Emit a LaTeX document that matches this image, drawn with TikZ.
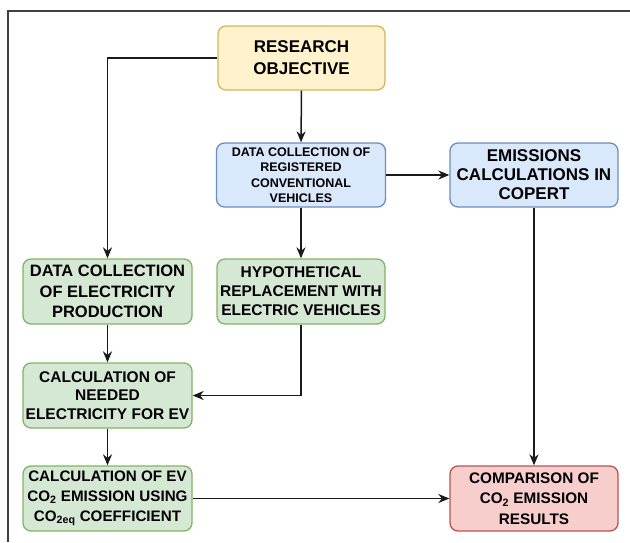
\documentclass[tikz,border=0pt]{standalone}
\usepackage{fontspec}
\setmainfont{Liberation Sans}
\usetikzlibrary{arrows.meta}
\definecolor{yfill}{HTML}{FFF2CC}\definecolor{ydraw}{HTML}{D6B656}
\definecolor{bfill}{HTML}{DAE8FC}\definecolor{bdraw}{HTML}{6C8EBF}
\definecolor{gfill}{HTML}{D5E8D4}\definecolor{gdraw}{HTML}{82B366}
\definecolor{rfill}{HTML}{F8CECC}\definecolor{rdraw}{HTML}{B85450}
\definecolor{linec}{HTML}{1A1A1A}
\tikzset{
  box/.style={rectangle, rounded corners=8pt, line width=1.3pt, align=center,
    inner sep=0pt, font=\bfseries},
  ybox/.style={box, fill=yfill, draw=ydraw},
  bbox/.style={box, fill=bfill, draw=bdraw},
  gbox/.style={box, fill=gfill, draw=gdraw},
  rbox/.style={box, fill=rfill, draw=rdraw},
  conn/.style={line width=1.5pt, draw=linec, -{Stealth[length=11pt,width=9pt,inset=3.5pt]}},
  frame/.style={line width=2pt, draw=black!75}
}
\begin{document}
\begin{tikzpicture}[x=1pt,y=-1pt]
\useasboundingbox (0,0) rectangle (630,542);
\draw[frame] (8,542) -- (8,11) -- (630,11);

\node[ybox, minimum width=167pt, minimum height=64pt,
  font=\bfseries\fontsize{17}{22}\selectfont] (obj) at (301.5,58) {RESEARCH\\OBJECTIVE};
\node[bbox, minimum width=169pt, minimum height=64pt,
  font=\bfseries\fontsize{12.5}{15.5}\selectfont] (reg) at (301,175)
  {DATA COLLECTION OF\\REGISTERED\\CONVENTIONAL\\VEHICLES};
\node[bbox, minimum width=168pt, minimum height=64pt,
  font=\bfseries\fontsize{17}{19}\selectfont] (cop) at (534,175)
  {EMISSIONS\\CALCULATIONS IN\\COPERT};
\node[gbox, minimum width=169pt, minimum height=65pt,
  font=\bfseries\fontsize{16.5}{20.5}\selectfont] (elec) at (107.5,291.5)
  {DATA COLLECTION\\OF ELECTRICITY\\PRODUCTION};
\node[gbox, minimum width=168pt, minimum height=65pt,
  font=\bfseries\fontsize{15.5}{19}\selectfont] (hyp) at (301,291.5)
  {HYPOTHETICAL\\REPLACEMENT WITH\\ELECTRIC VEHICLES};
\node[gbox, minimum width=169pt, minimum height=65pt,
  font=\bfseries\fontsize{15.5}{18.5}\selectfont] (need) at (107.5,395.5)
  {CALCULATION OF\\NEEDED\\ELECTRICITY FOR EV};
\node[gbox, minimum width=169pt, minimum height=65pt,
  font=\bfseries\fontsize{15.2}{20}\selectfont] (evco) at (107.5,498.5)
  {CALCULATION OF EV\\CO\textsubscript{2} EMISSION USING\\CO\textsubscript{2eq} COEFFICIENT};
\node[rbox, minimum width=168pt, minimum height=65pt,
  font=\bfseries\fontsize{15.3}{20.5}\selectfont] (comp) at (534,498.5)
  {COMPARISON OF\\CO\textsubscript{2} EMISSION\\RESULTS};

\draw[conn] (obj.west) -| (elec.north);
\draw[conn] (obj.south) -- (reg.north);
\draw[conn] (reg.east) -- (cop.west);
\draw[conn] (reg.south) -- (hyp.north);
\draw[conn] (elec.south) -- (need.north);
\draw[conn] (hyp.south) |- (need.east);
\draw[conn] (need.south) -- (evco.north);
\draw[conn] (cop.south) -- (comp.north);
\draw[conn] (evco.east) -- (comp.west);
\end{tikzpicture}
\end{document}
